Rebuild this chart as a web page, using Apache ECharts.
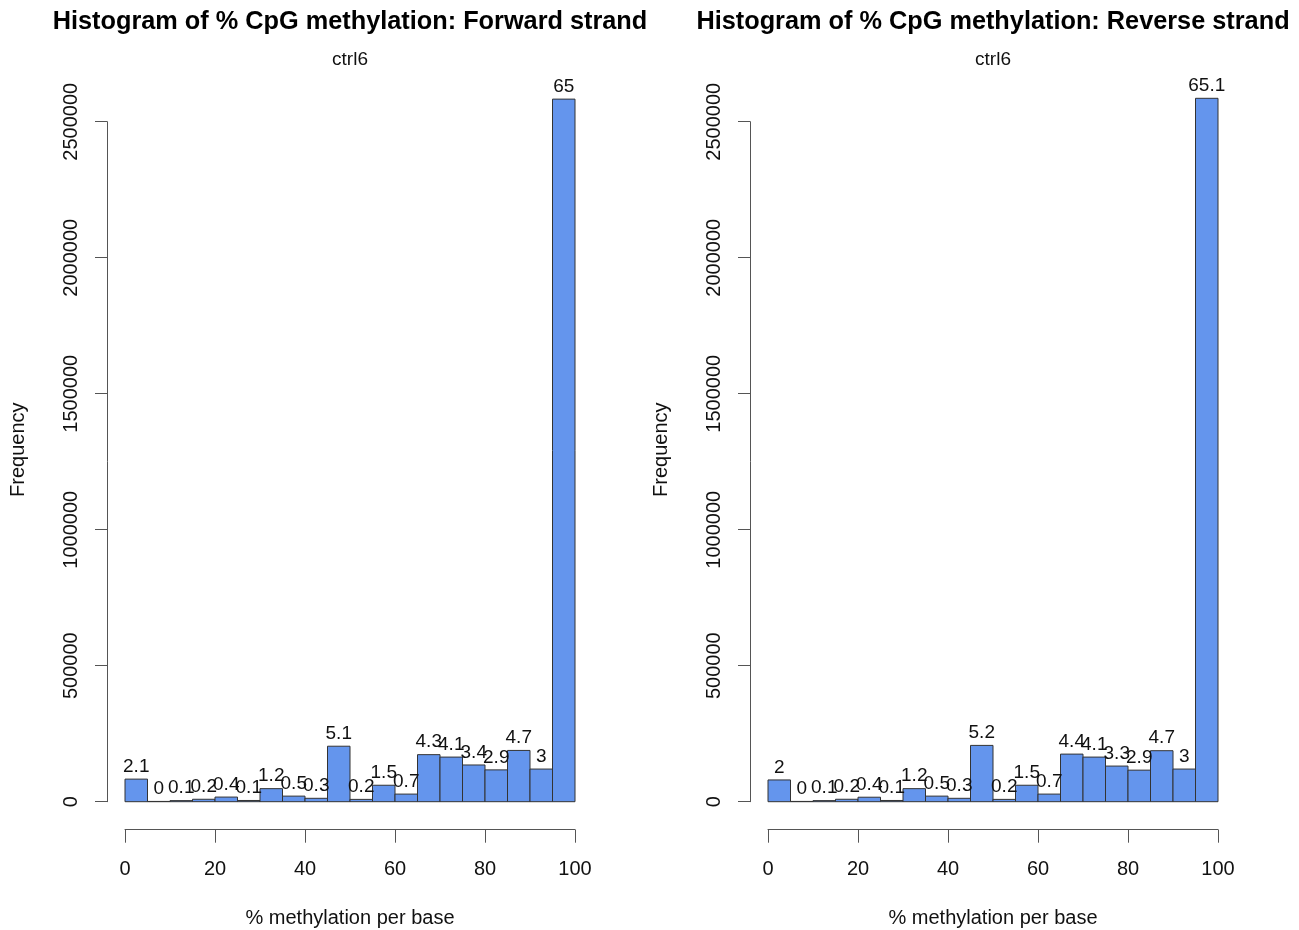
<!DOCTYPE html>
<html><head><meta charset="utf-8">
<script src="https://cdn.jsdelivr.net/npm/echarts@6/dist/echarts.min.js"></script>
<style>html,body{margin:0;padding:0;background:#fff}#c{width:1299px;height:930px}</style>
</head><body><div id="c"></div>
<script>
// ---- data ----
const binEdges = [0,5,10,15,20,25,30,35,40,45,50,55,60,65,70,75,80,85,90,95,100];
const fwdCounts = [83000,1000,4000,9000,17000,4500,48000,20500,12500,204000,8500,60500,28000,173000,164000,135000,117000,188500,120000,2583000];
const fwdPct    = [2.1,0,0.1,0.2,0.4,0.1,1.2,0.5,0.3,5.1,0.2,1.5,0.7,4.3,4.1,3.4,2.9,4.7,3,65];
const revCounts = [80000,1000,4000,9000,16500,4500,48000,20500,12500,207000,8500,60500,28000,175000,164000,131000,116000,187500,120000,2586000];
const revPct    = [2,0,0.1,0.2,0.4,0.1,1.2,0.5,0.3,5.2,0.2,1.5,0.7,4.4,4.1,3.3,2.9,4.7,3,65.1];
const titles = ['Histogram of % CpG methylation: Forward strand','Histogram of % CpG methylation: Reverse strand'];
const subtitle = 'ctrl6';
const xName = '% methylation per base';
const yName = 'Frequency';

// ---- layout ----
const FONT = '"Liberation Sans", Arial, sans-serif';
const panels = [{left:125},{left:768}];
const PW = 450, PTOP = 121.7, PH = 680;

function binData(counts, pct){
  return counts.map((c,i)=>[binEdges[i], binEdges[i+1], c, pct[i]]);
}
function renderItem(params, api){
  const p0 = api.coord([api.value(0), api.value(2)]);
  const p1 = api.coord([api.value(1), 0]);
  return {type:'group', children:[
    {type:'rect', z2:1, shape:{x:p0[0], y:p0[1], width:p1[0]-p0[0], height:p1[1]-p0[1]},
     style:{fill:'#6495ED', stroke:'#333', lineWidth:1}},
    {type:'text', z2:10, x:(p0[0]+p1[0])/2, y:p0[1]-3,
     style:{text:String(api.value(3)), textAlign:'center', textVerticalAlign:'bottom',
            font:'19px '+FONT, fill:'#111'}}
  ]};
}

const grids=[], xAxes=[], yAxes=[], series=[], graphics=[];
const datasets=[binData(fwdCounts,fwdPct), binData(revCounts,revPct)];
panels.forEach((p,i)=>{
  grids.push({left:p.left, top:PTOP, width:PW, height:PH, containLabel:false, outerBoundsMode:'none'});
  xAxes.push({gridIndex:i, type:'value', min:0, max:100, interval:20, offset:28, position:'bottom',
    axisLine:{show:true, onZero:false, lineStyle:{color:'#555', width:1}},
    axisTick:{show:true, length:13, lineStyle:{color:'#555'}},
    axisLabel:{margin:30, fontSize:20, color:'#111', fontFamily:FONT},
    splitLine:{show:false},
    name:xName, nameLocation:'middle', nameGap:79,
    nameTextStyle:{fontSize:20, color:'#111', fontFamily:FONT}});
  yAxes.push({gridIndex:i, type:'value', min:0, max:2500000, interval:500000, offset:18, position:'left',
    axisLine:{show:true, onZero:false, lineStyle:{color:'#555', width:1}},
    axisTick:{show:true, length:12, lineStyle:{color:'#555'}},
    axisLabel:{rotate:90, margin:26, fontSize:20, color:'#111', fontFamily:FONT, formatter:v=>String(v)},
    splitLine:{show:false},
    name:yName, nameLocation:'middle', nameGap:79, nameRotate:90,
    nameTextStyle:{fontSize:20, color:'#111', fontFamily:FONT, padding:[0,0,0,24]}});
  series.push({type:'custom', xAxisIndex:i, yAxisIndex:i, renderItem, data:datasets[i], clip:false});
  const cx = p.left + PW/2;
  graphics.push({type:'text', x:cx, y:22, style:{text:titles[i], textAlign:'center', textVerticalAlign:'middle', font:'bold 25.3px '+FONT, fill:'#000'}});
  graphics.push({type:'text', x:cx, y:60, style:{text:subtitle, textAlign:'center', textVerticalAlign:'middle', font:'19px '+FONT, fill:'#111'}});
});

const chart = echarts.init(document.getElementById('c'), null, {renderer:'canvas'});
chart.setOption({animation:false, backgroundColor:'#fff', grid:grids, xAxis:xAxes, yAxis:yAxes, series, graphic:graphics});
</script></body></html>
